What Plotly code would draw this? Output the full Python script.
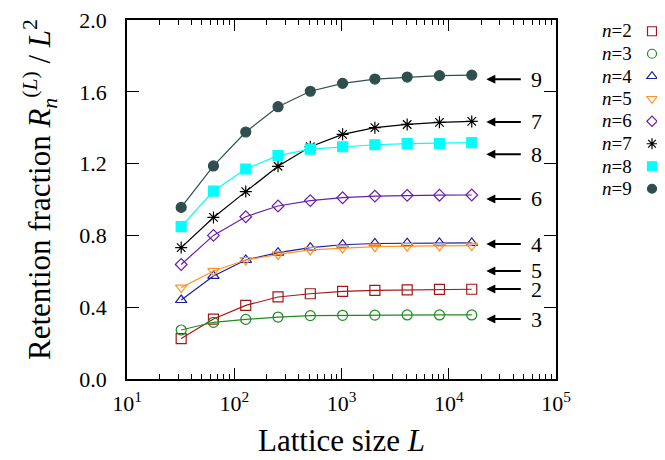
import plotly.graph_objects as go

L = [32, 64, 128, 256, 512, 1024, 2048, 4096, 8192, 16384]
n2 = [0.225, 0.334, 0.410, 0.457, 0.475, 0.488, 0.494, 0.497, 0.499, 0.500]
n3 = [0.273, 0.316, 0.332, 0.345, 0.353, 0.355, 0.356, 0.357, 0.357, 0.357]
n4 = [0.440, 0.574, 0.663, 0.704, 0.732, 0.748, 0.755, 0.757, 0.758, 0.758]
n5 = [0.509, 0.602, 0.663, 0.694, 0.719, 0.730, 0.737, 0.740, 0.741, 0.743]
n6 = [0.638, 0.800, 0.904, 0.964, 0.994, 1.010, 1.019, 1.023, 1.024, 1.025]
n7 = [0.732, 0.900, 1.044, 1.185, 1.294, 1.363, 1.400, 1.418, 1.430, 1.435]
n8 = [0.849, 1.047, 1.170, 1.244, 1.281, 1.294, 1.305, 1.311, 1.312, 1.317]
n9 = [0.956, 1.187, 1.376, 1.517, 1.603, 1.647, 1.671, 1.682, 1.690, 1.693]

series_names = ["n=2", "n=3", "n=4", "n=5", "n=6", "n=7", "n=8", "n=9"]
series_values = [n2, n3, n4, n5, n6, n7, n8, n9]
colors = ["#a01818", "#1f8a1f", "#1c1ca0", "#ff9428", "#6a1fa8", "#000000", "#00ffff", "#2f4f4f"]
symbols = ["square-open", "circle-open", "triangle-up-open", "triangle-down-open",
           "diamond-open", "asterisk-open", "square", "circle"]
sizes = [10, 10, 10, 10, 9, 10, 10, 10]

arrow_labels = ["9", "7", "8", "6", "4", "5", "2", "3"]
arrow_values = [1.670, 1.432, 1.252, 1.003, 0.752, 0.602, 0.501, 0.334]

xtick_vals = [10, 100, 1000, 10000, 100000]
xtick_text = ["10<sup>1</sup>", "10<sup>2</sup>", "10<sup>3</sup>", "10<sup>4</sup>", "10<sup>5</sup>"]
ytick_vals = [0.0, 0.4, 0.8, 1.2, 1.6, 2.0]

FONT = "Liberation Serif"
PW, PH = 429, 359          # plot area size in px
fig = go.Figure()

for name, vals, col, sym, sz in zip(series_names, series_values, colors, symbols, sizes):
    fig.add_trace(go.Scatter(
        x=L, y=vals, mode="lines+markers", showlegend=False,
        line=dict(color=col, width=1.2),
        marker=dict(symbol=sym, size=sz, color=col, line=dict(color=col, width=1.2)),
    ))
    fig.add_trace(go.Scatter(
        x=[None], y=[None], mode="markers", name=" ",
        marker=dict(symbol=sym, size=sz - 1, color=col, line=dict(color=col, width=1.2)),
    ))

# arrows with labels
for lab, v in zip(arrow_labels, arrow_values):
    fig.add_annotation(x=4.35, y=v, ax=36, ay=0, axref="pixel", ayref="pixel",
                       xref="x", yref="y", text="", showarrow=True,
                       arrowhead=2, arrowsize=0.9, arrowwidth=2, arrowcolor="black")
    fig.add_annotation(x=4.75, y=v, xref="x", yref="y", text=lab, showarrow=False,
                       xanchor="left", yanchor="middle",
                       font=dict(family=FONT, size=22, color="black"))

# legend texts (left of the symbols)
for i, name in enumerate(series_names):
    ypx = 31 + 22.5 * i
    fig.add_annotation(x=(634 - 127) / PW, y=(379 - ypx) / PH, xref="paper", yref="paper",
                       text="<i>n</i>=" + name.split("=")[1], showarrow=False,
                       xanchor="right", yanchor="middle",
                       font=dict(family=FONT, size=19, color="black"))

# axis titles
fig.add_annotation(x=0.5, y=-81 / PH, xref="paper", yref="paper",
                   text="Lattice size <i>L</i>", showarrow=False,
                   xanchor="center", yanchor="bottom",
                   font=dict(family=FONT, size=31, color="black"))
fig.add_annotation(x=(40 - 127) / PW, y=(379 - 190) / PH, xref="paper", yref="paper",
                   text="Retention fraction <i>R</i><sub><i>n</i></sub><sup>(<i>L</i>)</sup> / <i>L</i><sup>2</sup>",
                   showarrow=False, textangle=-90,
                   xanchor="center", yanchor="middle",
                   font=dict(family=FONT, size=31, color="black"))

axis_common = dict(showline=True, linecolor="black", linewidth=1.5, mirror="allticks",
                   ticks="inside", tickcolor="black", tickwidth=1.2, showgrid=False,
                   zeroline=False, automargin=False, ticklabeloverflow="allow",
                   tickfont=dict(family=FONT, size=22, color="black"))

fig.update_xaxes(type="log", range=[1, 5], tickvals=xtick_vals, ticktext=xtick_text,
                 ticklen=11, ticklabelstandoff=4,
                 minor=dict(ticks="inside", ticklen=5, tickcolor="black", tickwidth=1,
                            dtick="D1", showgrid=False),
                 **axis_common)
fig.update_yaxes(range=[0, 2], tickvals=ytick_vals, tickformat=".1f", ticklen=12,
                 ticklabelstandoff=14,
                 **axis_common)

W, H = 657, 452
ML, MT = 119, 12
fig.update_layout(
    width=W, height=H,
    margin=dict(l=ML, r=W - ML - PW, t=MT, b=H - MT - PH, autoexpand=False),
    paper_bgcolor="white", plot_bgcolor="white",
    legend=dict(x=(632 - 127) / PW, y=(379 - 15) / PH, xanchor="left", yanchor="top",
                font=dict(family=FONT, size=15), itemwidth=30,
                bgcolor="rgba(0,0,0,0)", tracegroupgap=0),
)

fig.write_html("out.html")
